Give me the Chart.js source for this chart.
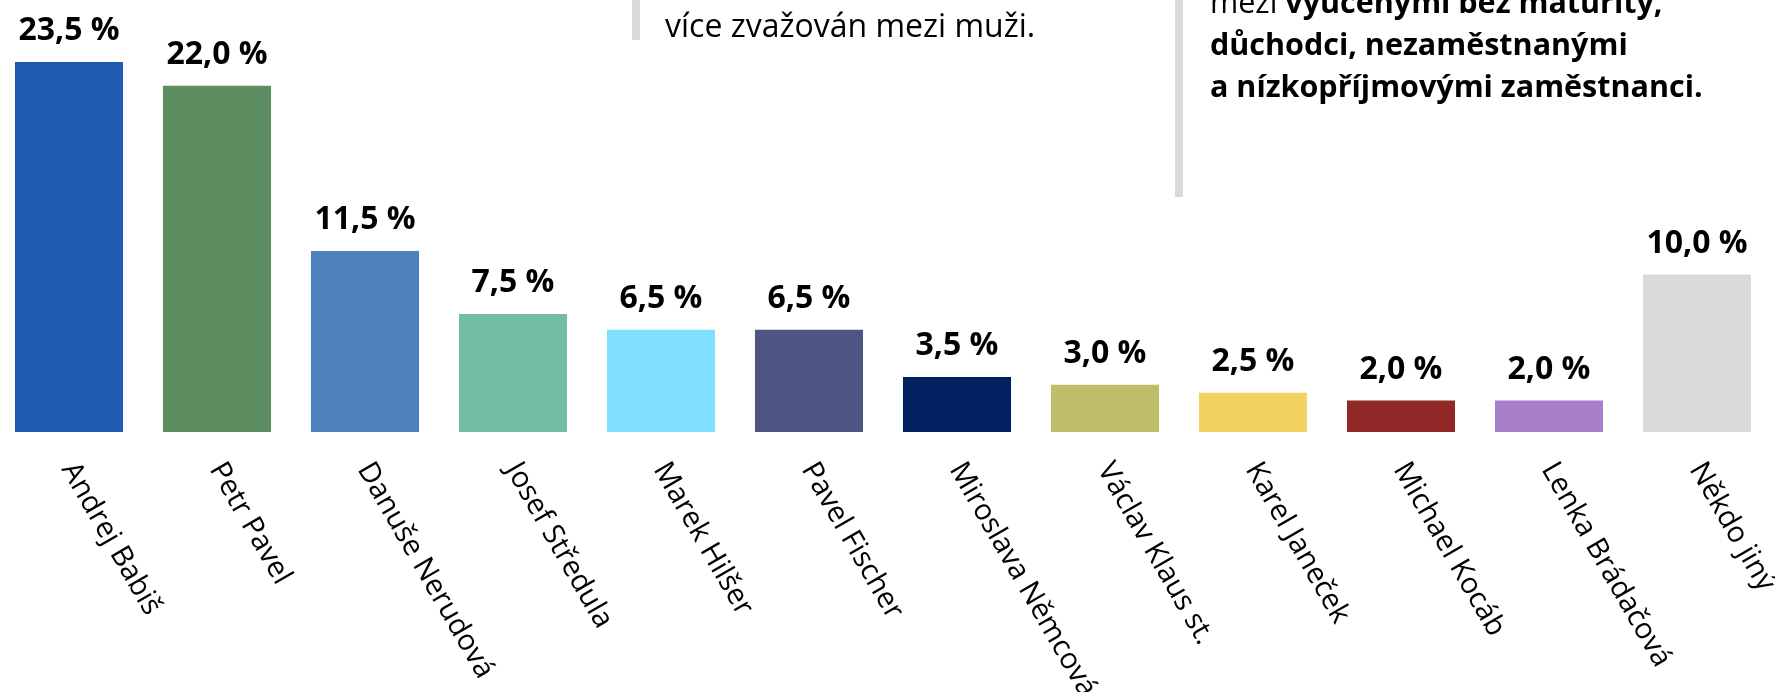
<!DOCTYPE html>
<html>
<head>
<meta charset="utf-8">
<script src="https://cdn.jsdelivr.net/npm/chart.js@4"></script>
<style>
  html, body { margin: 0; padding: 0; background: #fff; }
  #wrap { position: relative; width: 1775px; height: 692px; overflow: hidden; }
  canvas { position: absolute; left: -5px; top: 0; }
  .box { position: absolute; font-family: "Open Sans", sans-serif; color: #000; white-space: nowrap; }
  .bar { position: absolute; background: #d9d9d9; }
  #box1 { left: 665px; top: 4px; font-size: 32px; line-height: 42px; }
  #box2 { left: 1210px; top: -20px; font-size: 30.5px; line-height: 42px; font-weight: 700; }
  #box2 .n { font-weight: 400; }
</style>
</head>
<body>
<div id="wrap">
  <canvas id="c" width="1780" height="692"></canvas>
  <div class="bar" style="left:632px;top:0;width:8px;height:40px"></div>
  <div class="box" id="box1">více zvažován mezi muži.</div>
  <div class="bar" style="left:1175px;top:0;width:8px;height:197px"></div>
  <div class="box" id="box2"><span class="n">mezi </span>vyučenými bez maturity,<br>důchodci, nezaměstnanými<br>a nízkopříjmovými zaměstnanci.</div>
</div>
<script>
const categories = ["Andrej Babiš", "Petr Pavel", "Danuše Nerudová", "Josef Středula", "Marek Hilšer", "Pavel Fischer", "Miroslava Němcová", "Václav Klaus st.", "Karel Janeček", "Michael Kocáb", "Lenka Brádačová", "Někdo jiný"];
const values = [23.5, 22.0, 11.5, 7.5, 6.5, 6.5, 3.5, 3.0, 2.5, 2.0, 2.0, 10.0];
const barColors = ["#1F5BB1", "#5E8D62", "#4F81BD", "#73BDA4", "#80DEFE", "#4E5483", "#002060", "#BEBE68", "#F3D35F", "#912828", "#A97ECB", "#D9D9D9"];

const fmt = v => v.toFixed(1).replace('.', ',') + ' %';

const labelPlugin = {
  id: 'labels',
  afterDraw(chart) {
    const ctx = chart.ctx;
    const meta = chart.getDatasetMeta(0);
    const xs = chart.scales.x;
    const base = chart.chartArea.bottom;
    ctx.save();
    ctx.fillStyle = '#000';
    meta.data.forEach((bar, i) => {
      ctx.font = 'bold 32px "Open Sans"';
      ctx.textAlign = 'center';
      ctx.textBaseline = 'alphabetic';
      ctx.fillText(fmt(values[i]), bar.x, bar.y - 22);
      ctx.save();
      ctx.font = '29px "Open Sans"';
      ctx.textAlign = 'left';
      ctx.translate(xs.getPixelForValue(i) - 8, base + 37);
      ctx.rotate(Math.PI / 3);
      ctx.fillText(categories[i], 0, 0);
      ctx.restore();
    });
    ctx.restore();
  }
};

function draw() {
  new Chart(document.getElementById('c'), {
    type: 'bar',
    data: {
      labels: categories,
      datasets: [{ data: values, backgroundColor: barColors, borderWidth: 0, categoryPercentage: 1, barPercentage: 0.73 }]
    },
    options: {
      responsive: false,
      animation: false,
      layout: { padding: { left: 0, right: 4, top: 0, bottom: 260 } },
      plugins: { legend: { display: false }, tooltip: { enabled: false } },
      scales: {
        x: { display: false },
        y: { display: false, min: 0, max: 27.44 }
      }
    },
    plugins: [labelPlugin]
  });
}
Promise.all([
  document.fonts.load('29px "Open Sans"'),
  document.fonts.load('bold 32px "Open Sans"')
]).then(draw, draw);
</script>
</body>
</html>
